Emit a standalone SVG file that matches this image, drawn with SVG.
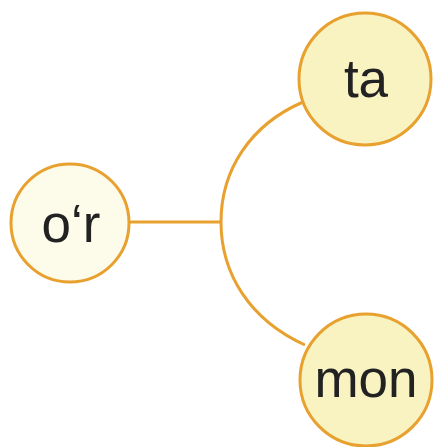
<svg xmlns="http://www.w3.org/2000/svg" width="434" height="447" viewBox="0 0 434 447">
<style>
.node circle{stroke:#e8a12e;stroke-width:3}
.root circle{fill:#fdfbea}
.leaf circle{fill:#f9f3c1}
.node text{font-family:"Liberation Sans",Arial,sans-serif;font-size:53px;fill:#222;text-anchor:middle}
.edges path{fill:none;stroke:#e8a12e;stroke-width:3}
</style>
<rect width="434" height="447" fill="#ffffff"/>
<g class="edges" id="connectors">
<path d="M129 222 H221"/>
<path d="M303 102 C250 125 221 170 221 222 C221 274 250 320 305 345"/>
</g>
<g class="node root" id="node-or">
<circle cx="70" cy="223" r="59"/>
<text x="71" y="242">o‘r</text>
</g>
<g class="node leaf" id="node-ta">
<circle cx="365" cy="79" r="66"/>
<text x="366" y="97">ta</text>
</g>
<g class="node leaf" id="node-mon">
<circle cx="366" cy="380" r="66"/>
<text x="366" y="397">mon</text>
</g>
</svg>
